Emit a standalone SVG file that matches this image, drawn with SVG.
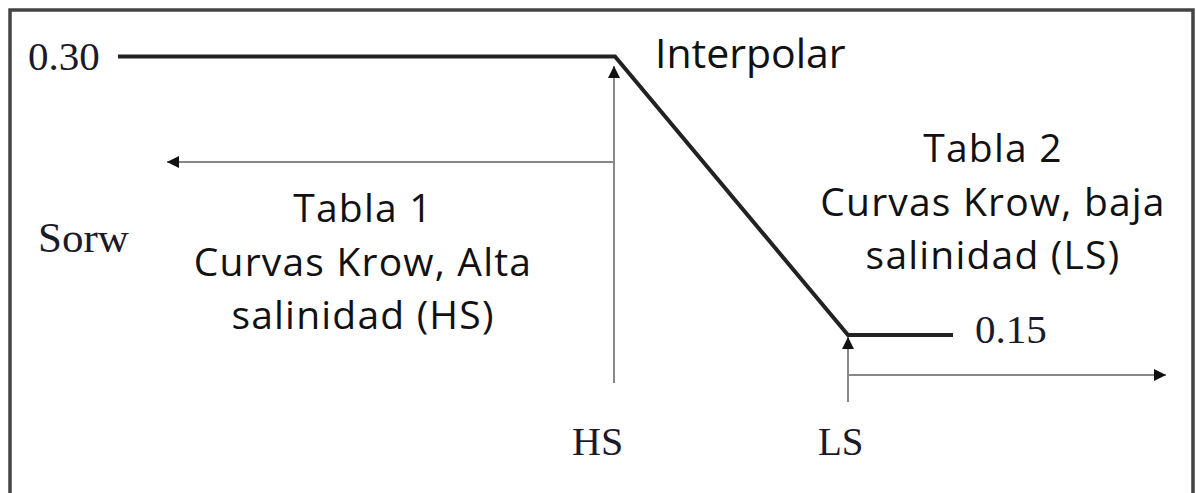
<svg xmlns="http://www.w3.org/2000/svg" width="1196" height="493" viewBox="0 0 1196 493">
<style>
.serif{font-family:"Liberation Serif","Times New Roman",serif;fill:#1a1a2a}
.sans{font-family:"Open Sans","DejaVu Sans",sans-serif;fill:#111}
.block{font-size:39px;letter-spacing:1.2px}
.curve{stroke:#222;stroke-width:4;fill:none;stroke-linejoin:miter}
.guide{stroke:#888;stroke-width:2;fill:none}
</style>
<defs>
<marker id="ah" viewBox="0 0 10 10" refX="10" refY="5" markerWidth="6" markerHeight="6" markerUnits="strokeWidth" orient="auto">
<path d="M0,0 L10,5 L0,10 z" fill="#111"/>
</marker>
</defs>
<rect x="0" y="0" width="1196" height="493" fill="#fff"/>
<path d="M10,493 V10 H1193 V493" fill="none" stroke="#444" stroke-width="3.5"/>
<g id="connectors">
<path class="curve" d="M118,56.5 H615 L848,335 H953"/>
<line class="guide" x1="614" y1="383" x2="614" y2="66" marker-end="url(#ah)"/>
<line class="guide" x1="614" y1="162" x2="167" y2="162" marker-end="url(#ah)"/>
<line class="guide" x1="848" y1="402" x2="848" y2="337" marker-end="url(#ah)"/>
<line class="guide" x1="848" y1="375" x2="1166" y2="375" marker-end="url(#ah)"/>
</g>
<g id="label-030"><text class="serif" x="28" y="70" font-size="41">0.30</text></g>
<g id="label-interpolar"><text class="sans" x="655" y="68" font-size="41">Interpolar</text></g>
<g id="label-sorw"><text class="serif" x="38" y="252" font-size="43">Sorw</text></g>
<g id="node-tabla1">
<text class="sans block" x="363" y="222" text-anchor="middle">Tabla 1</text>
<text class="sans block" x="363" y="276" text-anchor="middle">Curvas Krow, Alta</text>
<text class="sans block" x="363" y="329" text-anchor="middle">salinidad (HS)</text>
</g>
<g id="node-tabla2">
<text class="sans block" x="993" y="162" text-anchor="middle">Tabla 2</text>
<text class="sans block" x="993" y="216" text-anchor="middle">Curvas Krow, baja</text>
<text class="sans block" x="993" y="269" text-anchor="middle">salinidad (LS)</text>
</g>
<g id="label-015"><text class="serif" x="975" y="343" font-size="41">0.15</text></g>
<g id="label-hs"><text class="serif" x="572" y="455" font-size="40">HS</text></g>
<g id="label-ls"><text class="serif" x="818" y="455" font-size="39">LS</text></g>
</svg>
